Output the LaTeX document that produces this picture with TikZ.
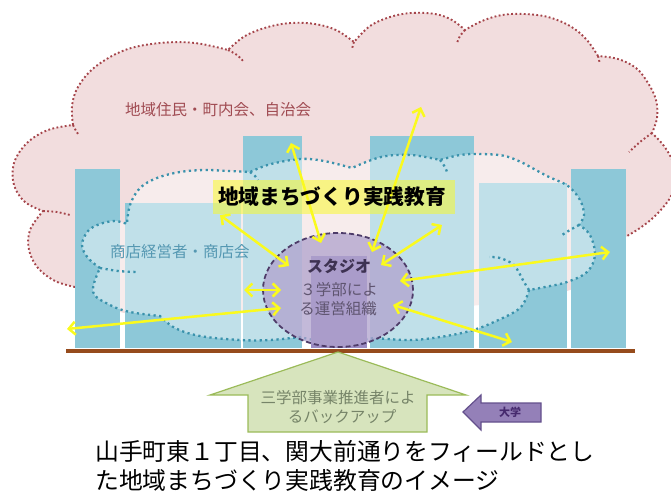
\documentclass[tikz,border=0pt]{standalone}
\usepackage{fontspec}
\newfontfamily\jp{Noto Sans CJK JP}
\usetikzlibrary{arrows.meta,shapes.geometric}
\definecolor{pinkfill}{RGB}{242,221,222}
\definecolor{pinkline}{RGB}{165,68,74}
\definecolor{bldg}{RGB}{141,200,216}
\definecolor{bline}{RGB}{58,146,172}
\definecolor{stpurple}{RGB}{176,162,205}
\definecolor{stline}{RGB}{78,60,105}
\definecolor{stbldg}{RGB}{155,140,195}
\definecolor{stdark}{RGB}{62,50,82}
\definecolor{stgray}{RGB}{95,85,112}
\definecolor{yel}{RGB}{250,250,30}
\definecolor{ground}{RGB}{150,75,28}
\definecolor{gfill}{RGB}{215,228,189}
\definecolor{gline}{RGB}{155,187,89}
\definecolor{gtext}{RGB}{118,132,104}
\definecolor{pfill}{RGB}{148,128,184}
\definecolor{pline}{RGB}{100,80,140}
\definecolor{ptext}{RGB}{70,42,110}
\definecolor{restext}{RGB}{160,75,82}
\definecolor{shoptext}{RGB}{85,152,178}
\def\pinkouter{plot[smooth,tension=0.6] coordinates {(75,287)(55,281)(38,268)(29,250)(30,230)(43,211)}
 -- plot[smooth,tension=0.6] coordinates {(43,211)(25,202)(14,185)(14,163)(27,143)(48,130)(73,125)}
 -- plot[smooth,tension=0.6] coordinates {(73,125)(72,106)(78,87)(95,67)(125,50)(160,43)(195,43)(228,50)}
 -- plot[smooth,tension=0.6] coordinates {(228,50)(245,36)(268,27)(291,23)(315,24)(336,30)(354,42)}
 -- plot[smooth,tension=0.6] coordinates {(354,42)(370,26)(390,17)(411,13)(435,14)(452,20)(465,30)}
 -- plot[smooth,tension=0.6] coordinates {(465,30)(482,21)(502,15)(524,14)(548,17)(570,26)(586,39)(598,56)}
 -- plot[smooth,tension=0.6] coordinates {(598,56)(618,59)(636,68)(648,83)(656,100)(657,118)(652,133)}
 -- plot[smooth,tension=0.6] coordinates {(652,133)(664,146)(673,162)(676,180)(670,198)(655,216)(640,228)(627,236)}}
\def\bluecloud{plot[smooth,tension=0.6] coordinates {(100,268)(88,258)(82,245)(88,231)(100,224)(115,221)(127,224)}
 -- plot[smooth,tension=0.6] coordinates {(127,224)(130,205)(140,188)(157,178)(180,172)(205,170)(228,171)(250,172)}
 -- plot[smooth,tension=0.6] coordinates {(250,172)(271,164)(301,159)(324,161)(352,168)}
 -- plot[smooth,tension=0.6] coordinates {(352,168)(381,157)(411,155)(440,160)}
 -- plot[smooth,tension=0.6] coordinates {(440,160)(460,155)(480,154)(505,156)(525,164)}
 -- plot[smooth,tension=0.6] coordinates {(525,164)(547,176)(568,186)(580,200)(584,215)(579,225)}
 -- plot[smooth,tension=0.6] coordinates {(579,225)(590,235)(595,255)(587,272)(567,282)(545,287)(529,290)}
 -- plot[smooth,tension=0.6] coordinates {(529,290)(520,308)(494,322)(470,331)(440,337)(410,340)(375,338)}
 -- plot[smooth,tension=0.6] coordinates {(375,338)(330,342)(300,337)}
 -- plot[smooth,tension=0.6] coordinates {(300,337)(270,340)(240,340)(200,336)(175,328)(160,316)}
 -- plot[smooth,tension=0.6] coordinates {(160,316)(130,312)(110,305)(93,292)(100,268)}}
\begin{document}
\begin{tikzpicture}[x=1pt,y=-1pt,
  pdots/.style={draw=pinkline, line width=1.9pt, dash pattern=on 1.8pt off 2.4pt},
  bdots/.style={draw=bline, line width=2.3pt, dash pattern=on 2.2pt off 3.4pt},
  house/.style={fill=bldg},
  yarr/.style={draw=yel, line width=2.5pt, arrows={Straight Barb[length=6.5pt,width=13pt]-Straight Barb[length=6.5pt,width=13pt]}},
  jtext/.style={font=\jp\fontsize{15.5}{18}\selectfont, inner sep=0pt},
  captext/.style={font=\jp\fontsize{23.8}{28}\selectfont, anchor=west, inner sep=0pt}
]
\useasboundingbox (0,0) rectangle (671,494);
% pink cloud
\fill[pinkfill] \pinkouter -- plot[smooth,tension=0.6] coordinates {(627,236)(600,262)(570,290)(480,305)(380,310)(280,312)(180,314)(120,312)(75,287)} -- cycle;
\draw[pdots] \pinkouter;
\foreach \s in {{(228,50)(237,55)(244,62)},{(354,42)(353,45)(352,49)},{(465,30)(460,36)(457,43)},{(598,56)(599,60)(600,64)},{(652,133)(640,142)(629,152)},{(43,211)(57,212)(70,215)},{(73,125)(75,129)(78,134)}}
  \draw[pdots] plot[smooth] coordinates \s;
% buildings
\fill[house] (75,169) rectangle (120,348);
\fill[house] (125,203) rectangle (241,348);
\fill[house] (243,136) rectangle (302,348);
\fill[house] (370,136) rectangle (474,348);
\fill[house] (479,183) rectangle (567,348);
\fill[house] (571,169) rectangle (626,348);
% blue cloud
\fill[white, opacity=0.45] \bluecloud -- cycle;
\draw[bdots] \bluecloud -- cycle;
\foreach \s in {{(100,268)(118,271)(137,272)},{(250,172)(255,176)(258,180)},{(440,160)(445,167)(447,172)},{(579,225)(570,230)(562,235)},{(529,290)(524,282)(514,265)(500,258)(489,257)}}
  \draw[bdots] plot[smooth] coordinates \s;
% theme highlight
\fill[yel, opacity=0.5] (213,180) rectangle (455,214);
% studio
\fill[stbldg] (311,256) rectangle (367,348);
\node[ellipse, minimum width=150pt, minimum height=114pt, fill=stpurple, fill opacity=0.75, draw=stline, line width=1.8pt, dash pattern=on 5pt off 3pt] (studio) at (338,290) {};
% arrow end points
\coordinate (a1s) at (321,243); \coordinate (a1e) at (291,143);
\coordinate (a2s) at (372,252); \coordinate (a2e) at (421,107);
\coordinate (a3s) at (289,266); \coordinate (a3e) at (220,215);
\coordinate (a4s) at (381,265); \coordinate (a4e) at (442,225);
\coordinate (a5s) at (281,290); \coordinate (a5e) at (244,290);
\coordinate (a6s) at (281,308); \coordinate (a6e) at (67,329);
\coordinate (a7s) at (400,281); \coordinate (a7e) at (610,252);
\coordinate (a8s) at (393,305); \coordinate (a8e) at (512,342);
\foreach \i in {1,...,8} \draw[yarr] (a\i s) -- (a\i e);
% texts
\node[jtext, text=restext, anchor=west] (residents) at (125,110) {地域住民・町内会、自治会};
\node[jtext, text=shoptext, anchor=west] (shops) at (110,252) {商店経営者・商店会};
\node[font=\jp\bfseries\fontsize{20.7}{24}\selectfont, inner sep=0pt] (theme) at (332,197) {地域まちづくり実践教育};
\node[font=\jp\bfseries\fontsize{16}{19}\selectfont, text=stdark, inner sep=0pt] (st1) at (339,266) {スタジオ};
\node[jtext, text=stgray] (st2) at (339,290) {３学部によ};
\node[jtext, text=stgray] (st3) at (338,309) {る運営組織};
% ground
\fill[ground] (66,349) rectangle (635,353);
% backup arrow
\filldraw[fill=gfill, draw=gline, line width=1.2pt] (338,352) -- (466,395) -- (427,395) -- (427,432) -- (248,432) -- (248,395) -- (210,395) -- cycle;
\node[jtext, text=gtext] (back1) at (338,398) {三学部事業推進者によ};
\node[jtext, text=gtext] (back2) at (342,417) {るバックアップ};
% university arrow
\filldraw[fill=pfill, draw=pline, line width=1.2pt] (463,412) -- (481,395) -- (481,403) -- (541,403) -- (541,422) -- (481,422) -- (481,430) -- cycle;
\node[font=\jp\bfseries\fontsize{11}{13}\selectfont, text=ptext, inner sep=0pt] (univ) at (510,412) {大学};
% caption
\node[captext] (cap1) at (95,451) {山手町東１丁目、関大前通りをフィールドとし};
\node[captext] (cap2) at (95,480) {た地域まちづくり実践教育のイメージ};
\end{tikzpicture}
\end{document}
